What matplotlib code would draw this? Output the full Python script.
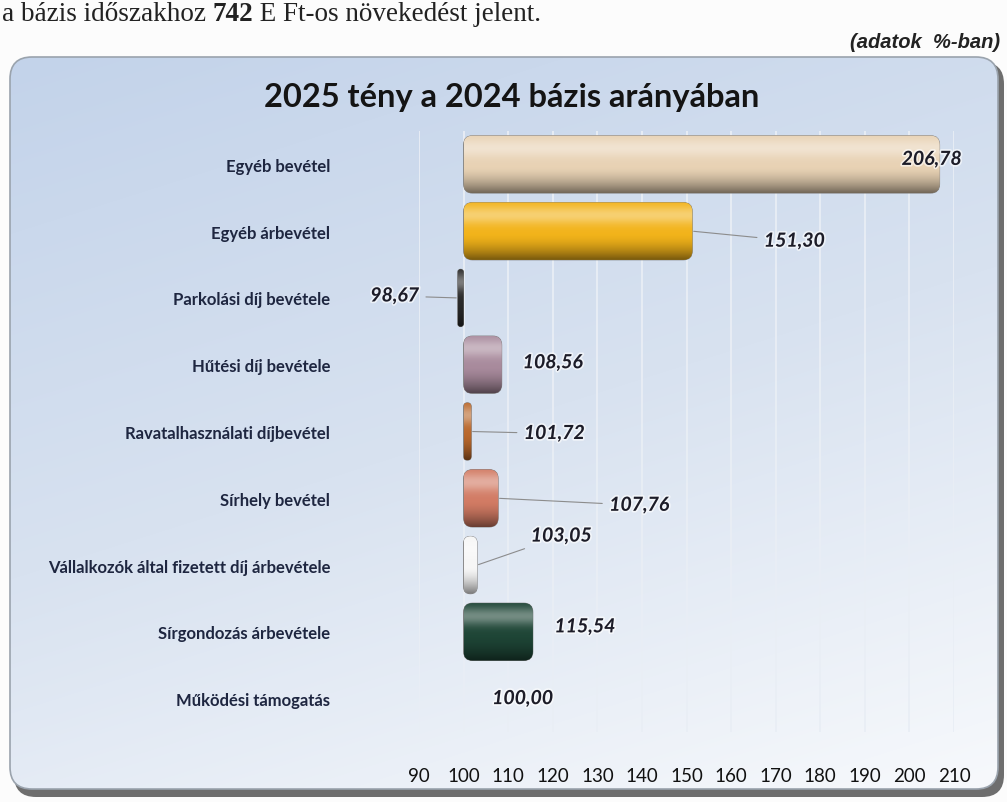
import numpy as np
import matplotlib.pyplot as plt
from matplotlib.patches import FancyBboxPatch
from matplotlib.colors import LinearSegmentedColormap, to_rgb
import matplotlib.patheffects as pe

# ------------------------------------------------------------------
# adatok
# ------------------------------------------------------------------
kategoriak = [
    "Egyéb bevétel",
    "Egyéb árbevétel",
    "Parkolási díj bevétele",
    "Hűtési díj bevétele",
    "Ravatalhasználati díjbevétel",
    "Sírhely bevétel",
    "Vállalkozók által fizetett díj árbevétele",
    "Sírgondozás árbevétele",
    "Működési támogatás",
]
ertekek = [206.78, 151.30, 98.67, 108.56, 101.72, 107.76, 103.05, 115.54, 100.00]
bazis = 100
x_ticks = list(range(90, 211, 10))

cim = "2025 tény a 2024 bázis arányában"
mertekegyseg = "(adatok  %-ban)"

# ------------------------------------------------------------------
# stílus
# ------------------------------------------------------------------
szinek = ["#e8d2b4", "#f2b31a", "#2a2a2a", "#a88a9c", "#b9682c",
          "#d27b64", "#f6f6f6", "#1e4536", "#cccccc"]
# címke eltolás pixelben (dx, dy) a sáv végétől, és van-e vezetővonal
cimke_eltolas = [(-8, 5), (102, -10), (-63, 2), (51, 2), (83, -2),
                 (141, -7), (84, 29), (52, 5), (59, 0)]
vezeto = [False, True, True, False, True, True, True, False, False]

W, H = 1007, 803
fig = plt.figure(figsize=(W / 100, H / 100), dpi=100)
fig.patch.set_facecolor("#fcfcfc")

# háttér tengely pixel koordinátákban
bg = fig.add_axes([0, 0, 1, 1])
bg.axis("off")

arnyek = FancyBboxPatch((14, 63), 990, 735, boxstyle="round,pad=0,rounding_size=22",
                        fc="#6e6e6e", ec="none", zorder=0)
bg.add_patch(arnyek)
panel = FancyBboxPatch((10, 58), 988, 732, boxstyle="round,pad=0,rounding_size=22",
                       fc="#dbe5f1", ec="none", zorder=1)
bg.add_patch(panel)
gy, gx = np.mgrid[0:1:200j, 0:1:200j]
grad = 0.7 * gy + 0.3 * gx
cmap = LinearSegmentedColormap.from_list("panel", ["#c3d3ea", "#d8e2f0", "#f7f9fc"])
im = bg.imshow(grad, extent=(10, 998, 790, 58), cmap=cmap, aspect="auto",
               interpolation="bilinear", zorder=2)
im.set_clip_path(panel)
bg.add_patch(FancyBboxPatch((10, 58), 988, 732, boxstyle="round,pad=0,rounding_size=22",
                            fc="none", ec="#9aa3ad", lw=1.2, zorder=3))
bg.set_xlim(0, W)
bg.set_ylim(H, 0)

# felső szövegrész és mértékegység
t1 = bg.text(2, 21, "a bázis időszakhoz ", fontsize=19.5, family="Liberation Serif",
             va="baseline", ha="left", color="#222")
t2 = bg.annotate("742", xy=(1, 0), xycoords=t1, fontsize=19.5, family="Liberation Serif",
                 fontweight="bold", va="bottom", ha="left", color="#222")
bg.annotate(" E Ft-os növekedést jelent.", xy=(1, 0), xycoords=t2, fontsize=19.5,
            family="Liberation Serif", va="bottom", ha="left", color="#222")
bg.text(1000, 43, mertekegyseg, fontsize=14.5, family="Liberation Sans", fontweight="bold",
        style="italic", ha="right", va="center", color="#222")
bg.text(512, 97, cim, fontsize=23.5, family="Lato", fontweight="bold",
        ha="center", va="center", color="#141414", zorder=5)

# ------------------------------------------------------------------
# fő diagram
# ------------------------------------------------------------------
ax_l, ax_r, ax_t, ax_b = 419, 954, 132, 733
ax = fig.add_axes([ax_l / W, 1 - ax_b / H, (ax_r - ax_l) / W, (ax_b - ax_t) / H])
ax.set_facecolor("none")
y = np.arange(len(kategoriak))
bars = ax.barh(y, [v - bazis for v in ertekek], left=bazis, height=0.86, color=szinek)

ax.set_xlim(90, 210)
ax.set_ylim(len(kategoriak) - 0.5, -0.5)
px_x = (ax_r - ax_l) / (210 - 90)
px_y = (ax_b - ax_t) / len(kategoriak)


def arnyalat(base, n=60):
    base = np.array(to_rgb(base))
    t = np.linspace(0, 1, n)[:, None]
    vil = 0.38 * np.exp(-((t - 0.22) / 0.16) ** 2)
    sot = 0.5 * np.clip((t - 0.55) / 0.45, 0, 1) ** 1.6
    c = base + (1 - base) * vil
    c = c * (1 - sot)
    return c[:, None, :]


for rect, szin in zip(bars, szinek):
    x0, y0 = rect.get_x(), rect.get_y()
    w, h = rect.get_width(), rect.get_height()
    rect.set_visible(False)
    if w < 0:
        x0, w = x0 + w, -w
    if w == 0:
        continue
    r = min(9 / px_x, w / 2)
    kerek = FancyBboxPatch((x0, y0), w, h, boxstyle=f"round,pad=0,rounding_size={r}",
                           mutation_aspect=px_x / px_y, fc=szin, ec="#7a7a7a",
                           lw=0.6, zorder=3)
    ax.add_patch(kerek)
    kep = ax.imshow(arnyalat(szin), extent=(x0, x0 + w, y0 + h, y0), aspect="auto",
                    interpolation="bilinear", zorder=3.5)
    kep.set_clip_path(kerek)

ax.set_xlim(90, 210)
ax.set_ylim(len(kategoriak) - 0.5, -0.5)

ax.set_xticks(x_ticks)
ax.set_xticklabels([str(v) for v in x_ticks], family="Lato", fontsize=13.5, color="#111")
ax.set_yticks(y)
ax.set_yticklabels(kategoriak, family="Lato", fontsize=12, fontweight="bold", color="#1e2640")
ax.tick_params(axis="x", length=0, pad=25)
ax.tick_params(axis="y", length=0, pad=64)
ax.grid(axis="x", color="#e9eef5", lw=1.3)
ax.set_axisbelow(True)
for s in ax.spines.values():
    s.set_visible(False)

# értékcímkék
for i, (v, (dx, dy), vez) in enumerate(zip(ertekek, cimke_eltolas, vezeto)):
    felirat = f"{v:.2f}".replace(".", ",")
    ap = dict(arrowstyle="-", color="#8c8c8c", lw=0.8, shrinkA=3, shrinkB=1) if vez else None
    ax.annotate(felirat, xy=(v, i), xytext=(dx, dy), textcoords="offset pixels",
                ha="center", va="center", fontsize=14, family="Lato", fontweight="bold",
                style="italic", color="#1c1c28", arrowprops=ap, zorder=6,
                annotation_clip=False,
                path_effects=[pe.withStroke(linewidth=2.5, foreground="white", alpha=0.6)])

fig.savefig("out.png", dpi=100, facecolor=fig.get_facecolor())
